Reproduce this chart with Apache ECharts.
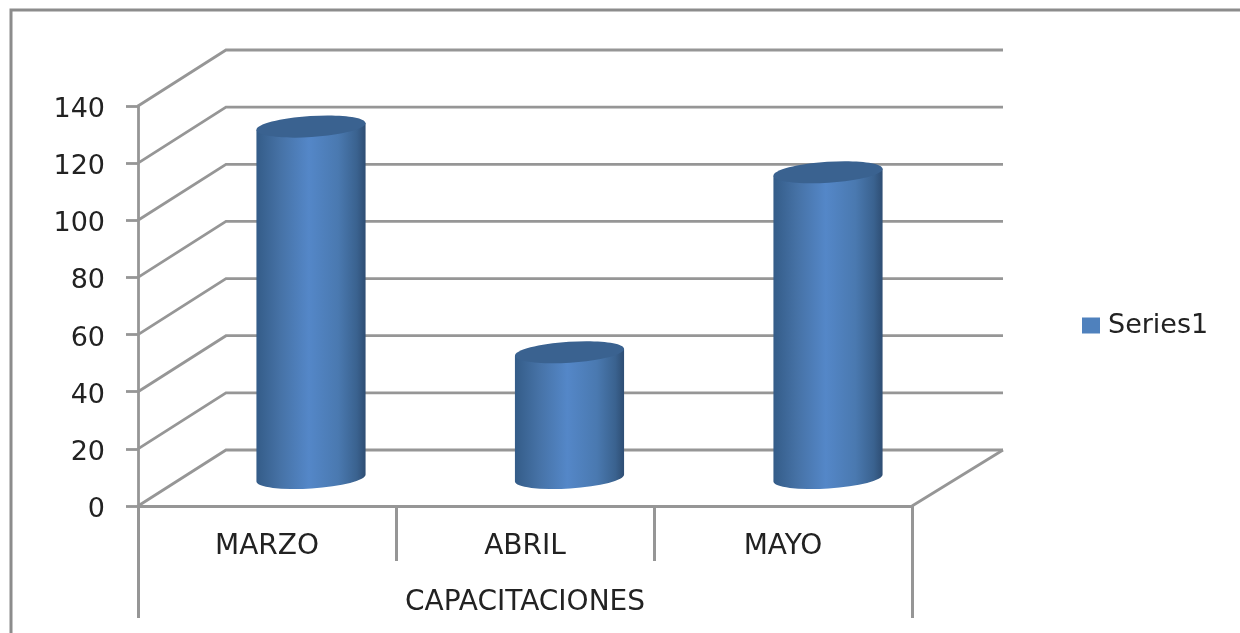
<!DOCTYPE html>
<html>
<head>
<meta charset="utf-8">
<style>html,body{margin:0;padding:0;background:#fff}#c{width:1240px;height:633px;filter:blur(0.5px)}</style>
<script src="https://cdn.jsdelivr.net/npm/echarts@6/dist/echarts.min.js"></script>
</head>
<body>
<div id="c"></div>
<script>
var categories = ['MARZO', 'ABRIL', 'MAYO'];
var groupLabels = ['CAPACITACIONES'];
var values = [123, 44, 107];
var yTicks = [0, 20, 40, 60, 80, 100, 120, 140];
var seriesName = 'Series1';

var DEPTH_X = 88, DEPTH_X_RIGHT = 91, DEPTH_Y = -56, GREY = '#969696', FONT = '"DejaVu Sans"', TEXT = '#222';
var chart = echarts.init(document.getElementById('c'), null, {renderer: 'canvas'});

function renderWall(params, api) {
  var cs = params.coordSys, y = api.coord([0, api.value(0)])[1];
  var pts = [[cs.x, y], [cs.x + DEPTH_X, y + DEPTH_Y], [cs.x + cs.width + DEPTH_X_RIGHT, y + DEPTH_Y]];
  var children = [{type: 'polyline', shape: {points: pts}, style: {stroke: GREY, lineWidth: 2.8, fill: null}}];
  if (api.value(0) === 0) {
    children.push({type: 'line', shape: {x1: cs.x + cs.width, y1: y, x2: cs.x + cs.width + DEPTH_X_RIGHT, y2: y + DEPTH_Y},
      style: {stroke: GREY, lineWidth: 2.8}});
  }
  return {type: 'group', children: children};
}

function renderCylinder(params, api) {
  var top = api.coord([api.value(0), api.value(1)]);
  var base = api.coord([api.value(0), 0]);
  var cx = top[0] + DEPTH_X / 2 + api.value(0) * 0.5, yTop = top[1] + DEPTH_Y / 2, yBase = base[1] + DEPTH_Y / 2;
  var r = api.size([1, 0])[0] * 0.2115, tilt = 3.7 * Math.PI / 180, dy = r * Math.tan(tilt);
  var rx = r / Math.cos(tilt), ry = 10.5;
  var d = 'M' + (cx - r) + ' ' + (yTop + dy) + 'L' + (cx - r) + ' ' + (yBase + dy) +
    'A' + rx + ' ' + ry + ' -3.7 0 0 ' + (cx + r) + ' ' + (yBase - dy) +
    'L' + (cx + r) + ' ' + (yTop - dy) + 'Z';
  return {type: 'group', children: [
    {type: 'path', shape: {pathData: d}, style: {fill: new echarts.graphic.LinearGradient(0, 0, 1, 0, [
      {offset: 0, color: '#345c88'}, {offset: 0.22, color: '#4672a6'}, {offset: 0.48, color: '#5487c8'},
      {offset: 0.75, color: '#4a79b0'}, {offset: 0.92, color: '#3a628f'}, {offset: 1, color: '#2e4d73'}])}},
    {type: 'ellipse', shape: {cx: 0, cy: 0, rx: rx, ry: ry}, x: cx, y: yTop, rotation: tilt,
      style: {fill: '#3a6290'}}
  ]};
}

chart.setOption({
  animation: false,
  backgroundColor: '#fff',
  grid: {left: 138, top: 106, width: 774, height: 400, containLabel: false},
  legend: {left: 1077, top: 307, itemWidth: 18, itemHeight: 16, itemGap: 8,
    data: [{name: seriesName, icon: 'rect', itemStyle: {color: '#4f81bd'}}],
    textStyle: {fontFamily: FONT, fontSize: 27, color: TEXT, padding: [0, 0, 0, 3]}},
  xAxis: [
    {type: 'category', data: categories, position: 'bottom',
      axisLine: {lineStyle: {color: GREY, width: 3}},
      axisTick: {show: true, length: 55, lineStyle: {color: GREY, width: 3}},
      axisLabel: {fontFamily: FONT, fontSize: 28, color: TEXT, margin: 27}},
    {type: 'category', data: groupLabels, position: 'bottom', offset: 55,
      axisLine: {show: false},
      axisTick: {show: true, length: 57, lineStyle: {color: GREY, width: 3}},
      axisLabel: {fontFamily: FONT, fontSize: 28, color: TEXT, margin: 28}}
  ],
  yAxis: {type: 'value', min: 0, max: 140, interval: 20,
    axisLine: {show: true, lineStyle: {color: GREY, width: 2.8}},
    axisTick: {show: true, length: 12, lineStyle: {color: GREY, width: 2.8}},
    splitLine: {show: false},
    axisLabel: {margin: 33, formatter: '{t|{value}}',
      rich: {t: {fontFamily: FONT, fontSize: 27, color: TEXT, padding: [8, 0, 0, 0]}}}},
  graphic: [{type: 'polyline', silent: true, shape: {points: [[11, 633], [11, 10], [1240, 10]]},
    style: {stroke: '#8c8c8c', lineWidth: 3, fill: null}}],
  series: [
    {type: 'custom', name: 'walls', xAxisIndex: 0, z: 1, silent: true, renderItem: renderWall,
      data: yTicks.map(function (t) { return [t]; }), encode: {y: 0}},
    {type: 'custom', name: seriesName, xAxisIndex: 0, z: 3, renderItem: renderCylinder,
      itemStyle: {color: '#4f81bd'},
      data: values.map(function (v, i) { return [i, v]; }), encode: {x: 0, y: 1}}
  ]
});
</script>
</body>
</html>
